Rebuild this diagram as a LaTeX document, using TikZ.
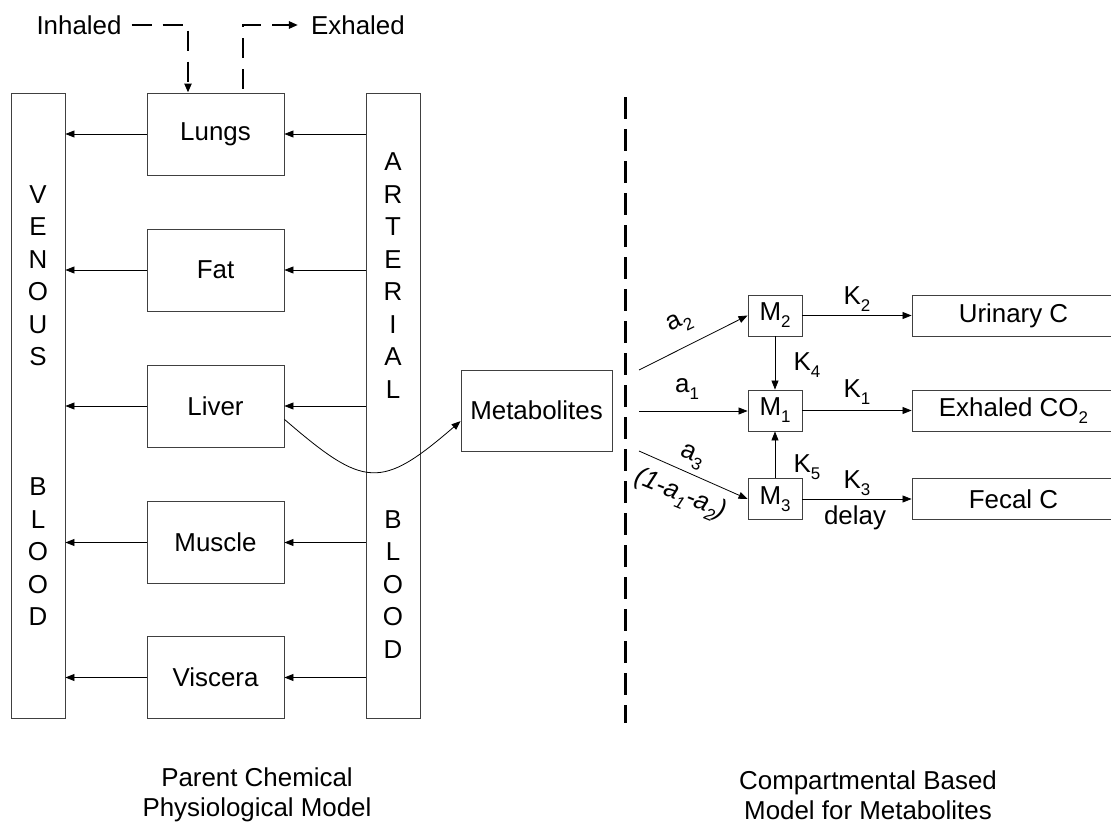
\documentclass[tikz,border=0pt]{standalone}
\usepackage{fontspec}
\setmainfont{Liberation Sans}
\usetikzlibrary{arrows.meta}
\newcommand\sbs[1]{\raisebox{-7bp}{\fontsize{17}{17}\selectfont #1}}
\begin{document}
\begin{tikzpicture}[x=1bp,y=-1bp,
  every node/.style={font=\fontsize{26}{32.6}\selectfont, inner sep=0pt},
  bx/.style={draw=black!75, line width=0.9bp},
  organ/.style={bx, minimum width=137bp, minimum height=82bp},
  bar/.style={bx, minimum width=54bp, minimum height=625bp, align=center},
  mbox/.style={bx, minimum width=54bp, minimum height=41bp},
  res/.style={bx, minimum width=203bp, minimum height=41bp},
  arr/.style={-{Triangle[length=9bp,width=7bp]}, line width=0.8bp},
  dsh/.style={line width=2.2bp, dash pattern=on 20bp off 11bp},
  divider/.style={line width=3bp, dash pattern=on 22bp off 10bp},
  caption/.style={align=center, font=\fontsize{26}{30}\selectfont}]
\useasboundingbox (0,0) rectangle (1111,826);

% bars
\node[bar] (ven) at (38,405.5) {V\\E\\N\\O\\U\\S\\\mbox{}\\\mbox{}\\\mbox{}\\B\\L\\O\\O\\D};
\node[bar] (art) at (393,405.5) {A\\R\\T\\E\\R\\I\\A\\L\\\mbox{}\\\mbox{}\\\mbox{}\\B\\L\\O\\O\\D};

% organs
\node[organ] (lungs) at (215.5,134) {Lungs};
\node[organ] (fat) at (215.5,270) {Fat};
\node[organ] (liver) at (215.5,406) {Liver};
\node[organ] (muscle) at (215.5,542.5) {Muscle};
\node[organ] (viscera) at (215.5,677.5) {Viscera};

\foreach \o in {lungs,fat,liver,muscle,viscera}{
  \draw[arr] (\o.east -| art.west) -- (\o.east);
  \draw[arr] (\o.west) -- (\o.west -| ven.east);
}

% inhaled / exhaled
\node (inh) at (79,25) {Inhaled};
\node (exh) at (358,25) {Exhaled};
\draw[dsh, arr, line width=2.2bp] ([xshift=10bp]inh.east) -| ([xshift=-27.5bp]lungs.north);
\draw[dsh, arr, line width=2.2bp] ([xshift=27.5bp,yshift=4bp]lungs.north) |- ([xshift=-13bp]exh.west);

% metabolites
\node[bx, minimum width=151bp, minimum height=81bp] (met) at (536.5,410.5) {Metabolites};
\draw[arr] (liver.-11.5) .. controls +(80,69) and +(-80,69) .. (met.188.7);

% divider
\draw[divider] (625,97) -- (625,723);

% compartments
\node[mbox] (m2) at (775,315.5) {M\sbs{2}};
\node[mbox] (m1) at (775,410.5) {M\sbs{1}};
\node[mbox] (m3) at (775,499) {M\sbs{3}};

\node[res] (uri) at (1013.5,315.5) {Urinary C};
\node[res] (co2) at (1013.5,410.5) {Exhaled CO\sbs{2}};
\node[res] (fec) at (1013.5,499) {Fecal C};

\coordinate (s2) at (639,370);
\coordinate (s1) at (639,411);
\coordinate (s3) at (639,451);

\draw[arr] (s2) -- (m2.west);
\draw[arr] (s1) -- (s1 -| m1.west);
\draw[arr] (s3) -- (m3.west);

\draw[arr] (m2.east) -- (m2.east -| uri.west);
\draw[arr] (m1.east) -- (m1.east -| co2.west);
\draw[arr] (m3.east) -- (m3.east -| fec.west);
\draw[arr] (m2.south) -- (m1.north);
\draw[arr] (m3.north) -- (m1.south);

% labels
\node[rotate=26] (la2) at (680,323) {a\sbs{2}};
\node (la1) at (687,389) {a\sbs{1}};
\node[rotate=-24] (la3) at (692,457) {a\sbs{3}};
\node[rotate=-22] (lpar) at (680,495) {\itshape (1-a\sbs{1}-a\sbs{2})};
\node (k2) at (857,299) {K\sbs{2}};
\node (k1) at (857,392) {K\sbs{1}};
\node (k3) at (857,483) {K\sbs{3}};
\node (dl) at (855,518) {delay};
\node (k4) at (807,365) {K\sbs{4}};
\node (k5) at (807,467) {K\sbs{5}};

% captions
\node[caption] (cap1) at (257,795) {Parent Chemical\\Physiological Model};
\node[caption] (cap2) at (868,795) {Compartmental Based\\Model for Metabolites};
\end{tikzpicture}
\end{document}
